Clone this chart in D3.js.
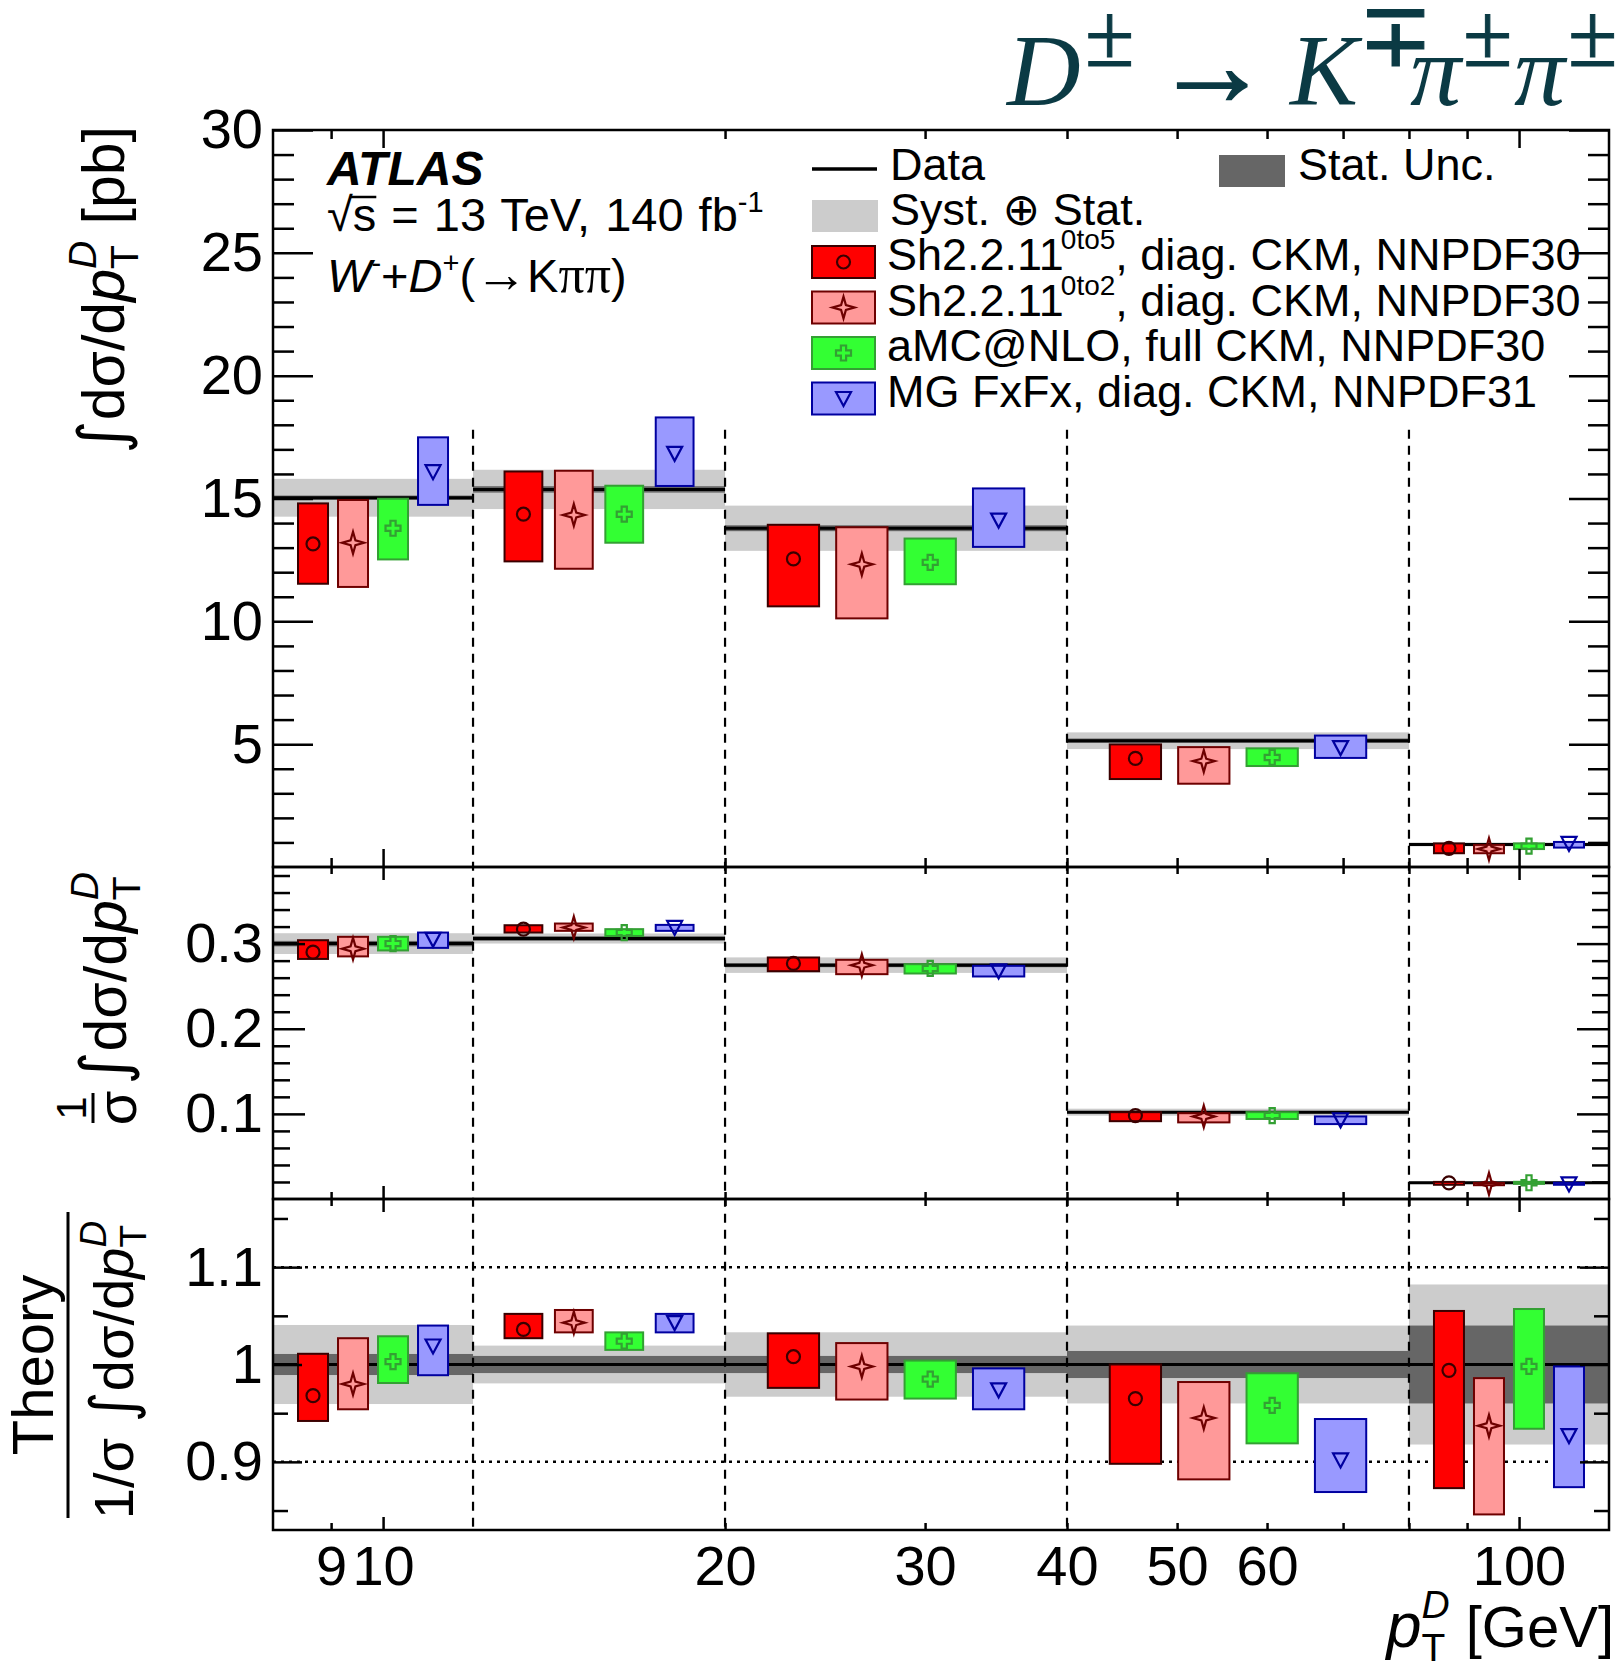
<!DOCTYPE html>
<html>
<head>
<meta charset="utf-8">
<script src="https://cdn.jsdelivr.net/npm/d3@7"></script>
<style>
  body { margin: 0; background: #fff; }
  text { font-family: "Liberation Sans", Arial, "DejaVu Sans", sans-serif; }
  .axis .domain { display: none; }
  .axis line { stroke: #000; stroke-width: 2.5; }
  .axis text { font-size: 56px; font-family: "Liberation Sans", Arial, sans-serif; fill: #000; }
</style>
</head>
<body>
<div id="chart"></div>
<script>
// pT^D bins [GeV]
const binEdges = [8, 12, 20, 40, 80, 120];
const xTickValues = [9, 10, 20, 30, 40, 50, 60, 70, 80, 90, 100];
const xMajorTicks = [10, 100];
const xTickLabels = [9, 10, 20, 30, 40, 50, 60, 100];

const yTicksXsec = [5, 10, 15, 20, 25, 30];
const yTicksNorm = [0.1, 0.2, 0.3];
const yTicksRatio = [0.9, 1.0, 1.1];

// measured data: value, total (syst+stat) and stat half-widths
const dataXsec = [15.03, 15.37, 13.79, 5.14, 0.92];
const dataXsecTot = [0.77, 0.80, 0.92, 0.34, 0.08];
const dataXsecStat = [0.09, 0.13, 0.12, 0.09, 0.04];
const dataNorm = [0.300, 0.306, 0.2747, 0.102, 0.0191];
const dataNormTot = [0.0122, 0.0059, 0.0091, 0.0041, 0.0016];
const dataNormStat = [0.0032, 0.0027, 0.0024, 0.0014, 0.0008];
const dataRatio = [1, 1, 1, 1, 1];
const dataRatioTot = [0.0406, 0.0194, 0.0331, 0.0400, 0.0822];
const dataRatioStat = [0.0108, 0.0088, 0.0088, 0.0139, 0.0400];

// predictions, per bin [low, central, high]
const sh05Xsec = [[11.53, 13.15, 14.80], [12.44, 14.36, 16.10], [10.61, 12.54, 13.93], [3.58, 4.42, 4.99], [0.56, 0.76, 0.96]];
const sh02Xsec = [[11.40, 13.20, 14.94], [12.14, 14.33, 16.13], [10.12, 12.32, 13.83], [3.39, 4.31, 4.88], [0.56, 0.73, 0.90]];
const amcXsec = [[12.52, 13.79, 14.99], [13.20, 14.36, 15.52], [11.51, 12.40, 13.37], [4.11, 4.46, 4.83], [0.73, 0.85, 0.96]];
const mgXsec = [[14.74, 16.09, 17.49], [15.51, 16.84, 18.30], [13.03, 14.12, 15.41], [4.44, 4.86, 5.35], [0.79, 0.96, 1.02]];

const sh05Norm = [[0.282, 0.290, 0.304], [0.313, 0.317, 0.3216], [0.2676, 0.2767, 0.2837], [0.0914, 0.098, 0.102], [0.0167, 0.0190, 0.0201]];
const sh02Norm = [[0.285, 0.294, 0.308], [0.315, 0.319, 0.3236], [0.2641, 0.2747, 0.281], [0.090, 0.097, 0.1008], [0.0162, 0.0179, 0.0188]];
const amcNorm = [[0.292, 0.300, 0.308], [0.309, 0.313, 0.317], [0.2649, 0.2708, 0.2758], [0.094, 0.098, 0.102], [0.0178, 0.0191, 0.0202]];
const mgNorm = [[0.295, 0.305, 0.313], [0.315, 0.319, 0.322], [0.2614, 0.268, 0.2739], [0.088, 0.093, 0.097], [0.0167, 0.0177, 0.0191]];

const sh05Ratio = [[0.942, 0.968, 1.011], [1.027, 1.036, 1.052], [0.976, 1.008, 1.032], [0.898, 0.965, 1.000], [0.873, 0.994, 1.055]];
const sh02Ratio = [[0.954, 0.980, 1.027], [1.033, 1.043, 1.056], [0.964, 0.998, 1.022], [0.882, 0.945, 0.982], [0.846, 0.937, 0.986]];
const amcRatio = [[0.981, 1.003, 1.029], [1.015, 1.024, 1.033], [0.965, 0.985, 1.004], [0.919, 0.958, 0.991], [0.934, 0.998, 1.057]];
const mgRatio = [[0.989, 1.019, 1.040], [1.033, 1.043, 1.052], [0.954, 0.974, 0.996], [0.869, 0.902, 0.944], [0.874, 0.927, 0.998]];

const models = [
  { name: "Sh2.2.11", sup: "0to5", rest: ", diag. CKM, NNPDF30", fill: "#ff0000", stroke: "#3a0000", mcol: "#3a0000", marker: "circle", xsec: sh05Xsec, norm: sh05Norm, ratio: sh05Ratio },
  { name: "Sh2.2.11", sup: "0to2", rest: ", diag. CKM, NNPDF30", fill: "#ff9999", stroke: "#6e0000", mcol: "#6e0000", marker: "star", xsec: sh02Xsec, norm: sh02Norm, ratio: sh02Ratio },
  { name: "aMC@NLO, full CKM, NNPDF30", sup: "", rest: "", fill: "#33ff33", stroke: "#33a033", mcol: "#33a033", marker: "cross", xsec: amcXsec, norm: amcNorm, ratio: amcRatio },
  { name: "MG FxFx, diag. CKM, NNPDF31", sup: "", rest: "", fill: "#9999ff", stroke: "#0000a0", mcol: "#0000a0", marker: "tri", xsec: mgXsec, norm: mgNorm, ratio: mgRatio }
];

const width = 1622, height = 1672;
const left = 273, right = 1609;

const x = d3.scaleLog().domain([binEdges[0], binEdges[binEdges.length - 1]]).range([left, right]);

const panels = [
  { top: 130, bottom: 867, y: d3.scaleLinear().domain([0, 30]).range([867, 130]),
    val: dataXsec, tot: dataXsecTot, stat: dataXsecStat, key: "xsec",
    major: yTicksXsec, minor: d3.range(1, 30).filter(v => v % 5 !== 0), fmt: d3.format("d"),
    yMaj: 40, yMin: 21, xMaj: 18, xMin: 9 },
  { top: 867, bottom: 1199, y: d3.scaleLinear().domain([0, 0.39]).range([1199, 867]),
    val: dataNorm, tot: dataNormTot, stat: dataNormStat, key: "norm",
    major: yTicksNorm, minor: d3.range(1, 20).map(v => v * 0.02).filter(v => Math.abs(v * 10 - Math.round(v * 10)) > 1e-6), fmt: d3.format(".1f"),
    yMaj: 32, yMin: 17, xMaj: 13, xMin: 7 },
  { top: 1199, bottom: 1530, y: d3.scaleLinear().domain([0.83, 1.17]).range([1530, 1199]),
    val: dataRatio, tot: dataRatioTot, stat: dataRatioStat, key: "ratio",
    major: yTicksRatio, minor: [0.85, 0.95, 1.05, 1.15], fmt: d => (Math.abs(d - 1) < 1e-9 ? "1" : d.toFixed(1)),
    yMaj: 29, yMin: 15, xMaj: 13, xMin: 7 }
];

const bins = d3.range(binEdges.length - 1);
const sepEdges = binEdges.slice(1, -1);
const sepTop = 17.8;

const svg = d3.select("#chart").append("svg")
  .attr("width", width).attr("height", height).style("display", "block");

// position of model j inside bin i, in log space
function boxPos(i, j) {
  const a = Math.log10(binEdges[i]), b = Math.log10(binEdges[i + 1]);
  const c = a + (j + 1) * (b - a) / 5, hw = 0.075 * (b - a);
  return { x0: x(10 ** (c - hw)), x1: x(10 ** (c + hw)), xc: x(10 ** c) };
}

function markerPath(type) {
  if (type === "star") return "M0,-11L2.4,-2.4L11,0L2.4,2.4L0,11L-2.4,2.4L-11,0L-2.4,-2.4Z";
  if (type === "cross") return "M-2.6,-7.5H2.6V-2.6H7.5V2.6H2.6V7.5H-2.6V2.6H-7.5V-2.6H-2.6Z";
  if (type === "tri") return "M-7.5,-6.5H7.5L0,7.5Z";
  return null;
}

function drawMarker(g, m, cx, cy) {
  if (m.marker === "circle") {
    g.append("circle").attr("cx", cx).attr("cy", cy).attr("r", 6.5)
      .attr("fill", "none").attr("stroke", m.mcol).attr("stroke-width", 2.2);
  } else {
    g.append("path").attr("d", markerPath(m.marker)).attr("transform", `translate(${cx},${cy})`)
      .attr("fill", "none").attr("stroke", m.mcol).attr("stroke-width", 2.2);
  }
}

// bands and data lines
panels.forEach(p => {
  const g = svg.append("g");
  if (p.key === "ratio") {
    [1.1, 0.9].forEach(v => {
      g.append("line").attr("x1", left).attr("x2", right).attr("y1", p.y(v)).attr("y2", p.y(v))
        .attr("stroke", "#000").attr("stroke-width", 2.5).attr("stroke-dasharray", "3,5");
    });
  }
  g.selectAll("rect.syst").data(bins).join("rect").attr("class", "syst")
    .attr("x", i => x(binEdges[i])).attr("width", i => x(binEdges[i + 1]) - x(binEdges[i]))
    .attr("y", i => p.y(p.val[i] + p.tot[i])).attr("height", i => p.y(p.val[i] - p.tot[i]) - p.y(p.val[i] + p.tot[i]))
    .attr("fill", "#cccccc");
  g.selectAll("rect.stat").data(bins).join("rect").attr("class", "stat")
    .attr("x", i => x(binEdges[i])).attr("width", i => x(binEdges[i + 1]) - x(binEdges[i]))
    .attr("y", i => p.y(p.val[i] + p.stat[i])).attr("height", i => p.y(p.val[i] - p.stat[i]) - p.y(p.val[i] + p.stat[i]))
    .attr("fill", "#666666");
  g.selectAll("line.data").data(bins).join("line").attr("class", "data")
    .attr("x1", i => x(binEdges[i])).attr("x2", i => x(binEdges[i + 1]))
    .attr("y1", i => p.y(p.val[i])).attr("y2", i => p.y(p.val[i]))
    .attr("stroke", "#000").attr("stroke-width", 3);
});

// bin separators
svg.append("g").selectAll("line").data(sepEdges).join("line")
  .attr("x1", d => x(d)).attr("x2", d => x(d))
  .attr("y1", panels[0].y(sepTop)).attr("y2", panels[2].bottom)
  .attr("stroke", "#000").attr("stroke-width", 2.2).attr("stroke-dasharray", "9,7");

// prediction boxes
panels.forEach(p => {
  const g = svg.append("g");
  models.forEach((m, j) => {
    bins.forEach(i => {
      const [lo, c, hi] = m[p.key][i];
      const b = boxPos(i, j);
      g.append("rect").attr("x", b.x0).attr("width", b.x1 - b.x0)
        .attr("y", p.y(hi)).attr("height", Math.max(p.y(lo) - p.y(hi), 0.5))
        .attr("fill", m.fill).attr("stroke", m.stroke).attr("stroke-width", 2);
      drawMarker(g, m, b.xc, p.y(c));
    });
  });
});

// axes and frames
panels.forEach((p, k) => {
  const gl = svg.append("g").attr("class", "axis").attr("transform", `translate(${left},0)`);
  gl.call(d3.axisLeft(p.y).tickValues(p.major).tickSize(-p.yMaj).tickSizeOuter(0).tickPadding(10).tickFormat(p.fmt));
  gl.append("g").call(d3.axisLeft(p.y).tickValues(p.minor).tickSize(-p.yMin).tickSizeOuter(0).tickFormat(""));
  const gr = svg.append("g").attr("class", "axis").attr("transform", `translate(${right},0)`);
  gr.call(d3.axisRight(p.y).tickValues(p.major).tickSize(-p.yMaj).tickSizeOuter(0).tickFormat(""));
  gr.append("g").call(d3.axisRight(p.y).tickValues(p.minor).tickSize(-p.yMin).tickSizeOuter(0).tickFormat(""));

  const minorX = xTickValues.filter(v => !xMajorTicks.includes(v));
  const gt = svg.append("g").attr("class", "axis").attr("transform", `translate(0,${p.top})`);
  gt.call(d3.axisTop(x).tickValues(minorX).tickSize(-p.xMin).tickSizeOuter(0).tickFormat(""));
  gt.append("g").call(d3.axisTop(x).tickValues(xMajorTicks).tickSize(-p.xMaj).tickSizeOuter(0).tickFormat(""));
  const gb = svg.append("g").attr("class", "axis").attr("transform", `translate(0,${p.bottom})`);
  gb.call(d3.axisBottom(x).tickValues(minorX).tickSize(-p.xMin).tickSizeOuter(0).tickFormat(""));
  gb.append("g").call(d3.axisBottom(x).tickValues(xMajorTicks).tickSize(-p.xMaj).tickSizeOuter(0).tickFormat(""));
  if (k === 2) {
    svg.append("g").attr("class", "axis").attr("transform", `translate(0,${p.bottom})`)
      .call(d3.axisBottom(x).tickValues(xTickLabels).tickSize(0).tickPadding(15).tickFormat(d3.format("d")));
  }
  svg.append("rect").attr("x", left).attr("y", p.top).attr("width", right - left).attr("height", p.bottom - p.top)
    .attr("fill", "none").attr("stroke", "#000").attr("stroke-width", 2.5);
});

// title, glyphs placed one by one
const serif = '"Liberation Serif", "Times New Roman", serif';
const titleColor = "#0b3a44";
const title = svg.append("text").attr("y", 105)
  .style("font-family", serif).style("font-size", "102px").attr("fill", titleColor);
[["D", "i", 1007], ["±", "s", 1085], ["→", "a", 1154], ["K", "i", 1290], ["∓", "s", 1358],
 ["π", "i", 1410], ["±", "s", 1463], ["π", "i", 1514], ["±", "s", 1568]]
  .forEach(([t, kind, px]) => {
    const ts = title.append("tspan").attr("x", px).text(t);
    if (kind === "s") {
      ts.attr("y", 66).style("font-size", "90px").style("font-style", "normal")
        .attr("stroke", titleColor).attr("stroke-width", 1);
    } else if (kind === "a") {
      ts.attr("y", 105).style("font-size", "116px").style("font-style", "normal")
        .attr("stroke", titleColor).attr("stroke-width", 2);
    } else {
      ts.attr("y", 105).style("font-style", "italic");
    }
  });

// ATLAS label block
svg.append("text").attr("x", 327).attr("y", 185).style("font-size", "48px")
  .style("font-weight", "bold").style("font-style", "italic").text("ATLAS");

const lumi = svg.append("text").attr("x", 327).attr("y", 231).style("font-size", "47px").style("word-spacing", "2px");
lumi.append("tspan").text("√s = 13 TeV, 140 fb");
lumi.append("tspan").attr("dy", -19).style("font-size", "29px").text("-1");
{
  const root = lumi.node();
  const e0 = root.getExtentOfChar(0), e1 = root.getExtentOfChar(1);
  svg.append("line").attr("x1", e0.x + e0.width - 2).attr("x2", e1.x + e1.width)
    .attr("y1", 197).attr("y2", 197).attr("stroke", "#000").attr("stroke-width", 2.5);
}

const proc = svg.append("text").attr("x", 327).attr("y", 292).style("font-size", "47px");
proc.append("tspan").style("font-style", "italic").text("W");
proc.append("tspan").attr("dy", -19).style("font-size", "29px").text("-");
proc.append("tspan").attr("dy", 19).text("+");
proc.append("tspan").style("font-style", "italic").text("D");
proc.append("tspan").attr("dy", -19).style("font-size", "29px").text("+");
proc.append("tspan").attr("dy", 19).text("(");
proc.append("tspan").style("font-family", serif).style("font-size", "52px").text("→");
proc.append("tspan").text("K");
proc.append("tspan").style("font-family", serif).style("font-size", "52px").text("ππ");
proc.append("tspan").text(")");

// legend
const leg = svg.append("g");
const legFont = "45px";
leg.append("line").attr("x1", 812).attr("x2", 877).attr("y1", 169).attr("y2", 169)
  .attr("stroke", "#000").attr("stroke-width", 3.5);
leg.append("text").attr("x", 890).attr("y", 180).style("font-size", legFont).text("Data");
leg.append("rect").attr("x", 1219).attr("y", 155).attr("width", 66).attr("height", 32).attr("fill", "#666666");
leg.append("text").attr("x", 1298).attr("y", 180).style("font-size", legFont).text("Stat. Unc.");
leg.append("rect").attr("x", 812).attr("y", 200).attr("width", 66).attr("height", 32).attr("fill", "#cccccc");
leg.append("text").attr("x", 890).attr("y", 225).style("font-size", legFont).text("Syst. ⊕ Stat.");

models.forEach((m, j) => {
  const yb = 270 + j * 45.5;
  leg.append("rect").attr("x", 812).attr("y", yb - 24).attr("width", 63).attr("height", 32)
    .attr("fill", m.fill).attr("stroke", m.stroke).attr("stroke-width", 2);
  drawMarker(leg, m, 843.5, yb - 8);
  const t = leg.append("text").attr("x", 887).attr("y", yb).style("font-size", legFont);
  t.append("tspan").text(m.name);
  if (m.sup) {
    t.append("tspan").attr("dx", -3).attr("dy", -21).style("font-size", "28px").text(m.sup);
    t.append("tspan").attr("dy", 21).text(m.rest);
  }
});

// axis titles
const xt = svg.append("text").attr("x", 1614).attr("y", 1647).attr("text-anchor", "end").style("font-size", "58px");
xt.append("tspan").style("font-style", "italic").style("font-size", "63px").text("p");
xt.append("tspan").attr("dy", 14).style("font-size", "39px").text("T");
xt.append("tspan").attr("dx", -24).attr("dy", -43).style("font-size", "39px").style("font-style", "italic").text("D");
xt.append("tspan").attr("dy", 29).text(" [GeV]");

function ptLabel(t, size) {
  const s = Math.round(size * 0.66);
  t.append("tspan").style("font-style", "italic").text("p");
  t.append("tspan").attr("dy", size * 0.24).style("font-size", s + "px").text("T");
  t.append("tspan").attr("dx", -s * 0.61).attr("dy", -size * 0.72).style("font-size", s + "px").style("font-style", "italic").text("D");
}
function integral(t, size) {
  t.append("tspan").style("font-family", '"DejaVu Sans", sans-serif').style("font-size", Math.round(size * 1.08) + "px").text("∫");
}

const yt1 = svg.append("text").attr("transform", "translate(124,126) rotate(-90)")
  .attr("text-anchor", "end").style("font-size", "59px");
integral(yt1, 59);
yt1.append("tspan").text("dσ/d");
ptLabel(yt1, 59);
yt1.append("tspan").attr("dy", 59 * 0.48).text(" [pb]");

const g2 = svg.append("g").attr("transform", "translate(126,872) rotate(-90)");
const yt2 = g2.append("text").attr("text-anchor", "end").style("font-size", "59px");
integral(yt2, 59);
yt2.append("tspan").text("dσ/d");
ptLabel(yt2, 59);
g2.append("text").attr("x", -236).attr("y", -40).attr("text-anchor", "middle").style("font-size", "42px").text("1");
g2.append("line").attr("x1", -251).attr("x2", -221).attr("y1", -33).attr("y2", -33).attr("stroke", "#000").attr("stroke-width", 3);
g2.append("text").attr("x", -236).attr("y", 10).attr("text-anchor", "middle").style("font-size", "56px").text("σ");

const g3 = svg.append("g").attr("transform", "translate(0,1365) rotate(-90)");
g3.append("text").attr("x", 0).attr("y", 53).attr("text-anchor", "middle").style("font-size", "58px").text("Theory");
g3.append("line").attr("x1", -153).attr("x2", 153).attr("y1", 68).attr("y2", 68).attr("stroke", "#000").attr("stroke-width", 3);
const yt3 = g3.append("text").attr("x", -5).attr("y", 133).attr("text-anchor", "middle").style("font-size", "56px");
yt3.append("tspan").text("1/σ ");
integral(yt3, 56);
yt3.append("tspan").text("dσ/d");
ptLabel(yt3, 56);
</script>
</body>
</html>
